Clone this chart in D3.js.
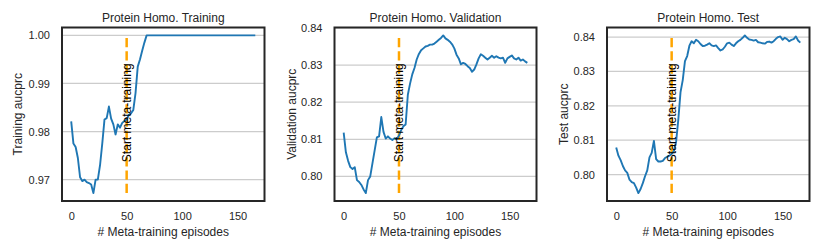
<!DOCTYPE html>
<html><head><meta charset="utf-8">
<script src="https://cdn.jsdelivr.net/npm/d3@7"></script>
<style>
html,body{margin:0;padding:0;background:#fff;}
svg{display:block;font-family:"Liberation Sans",Arial,sans-serif;}
</style></head>
<body><svg id="c" width="830" height="252"></svg>
<script>
// episodes (x values)
const episodes = [0,2,4,6,8,10,12,14,16,18,20,22,24,26,28,30,32,34,36,38,40,42,44,46,48,50,52,54,56,58,60,62,64,66,68,70,72,74,76,78,80,82,84,86,88,90,92,94,96,98,100,102,104,106,108,110,112,114,116,118,120,122,124,126,128,130,132,134,136,138,140,142,144,146,148,150,152,154,156,158,160,162,164,166];

const trainingAucprc = [0.9821,0.9775,0.9768,0.9745,0.9705,0.9697,0.9700,0.9695,0.9693,0.9690,0.9672,0.9700,0.9700,0.9730,0.9775,0.9825,0.9828,0.9852,0.9827,0.9815,0.9794,0.9815,0.9808,0.9818,0.9822,0.9825,0.9835,0.9838,0.9845,0.9880,0.9935,0.9950,0.9968,0.9985,1.0,1.0,1.0,1.0,1.0,1.0,1.0,1.0,1.0,1.0,1.0,1.0,1.0,1.0,1.0,1.0,1.0,1.0,1.0,1.0,1.0,1.0,1.0,1.0,1.0,1.0,1.0,1.0,1.0,1.0,1.0,1.0,1.0,1.0,1.0,1.0,1.0,1.0,1.0,1.0,1.0,1.0,1.0,1.0,1.0,1.0,1.0,1.0,1.0,1.0];

const validationAucprc = [0.8118,0.8065,0.8042,0.8025,0.8020,0.8025,0.7990,0.7985,0.7977,0.7965,0.7955,0.7990,0.8000,0.8035,0.8070,0.8105,0.8108,0.8160,0.8120,0.8102,0.8108,0.8102,0.8098,0.8103,0.8100,0.8110,0.8125,0.8135,0.8140,0.8220,0.8250,0.8275,0.8292,0.8315,0.8330,0.8340,0.8345,0.8350,0.8352,0.8355,0.8355,0.8358,0.8363,0.8368,0.8373,0.8380,0.8372,0.8368,0.8363,0.8356,0.8345,0.8328,0.8318,0.8302,0.8306,0.8303,0.8297,0.8292,0.8282,0.8288,0.8302,0.8318,0.8329,0.8325,0.8320,0.8315,0.8320,0.8325,0.8320,0.8324,0.8320,0.8318,0.8320,0.8306,0.8318,0.8322,0.8326,0.8318,0.8315,0.8320,0.8312,0.8315,0.8310,0.8306];

const testAucprc = [0.8079,0.8055,0.8042,0.8025,0.8012,0.8005,0.7985,0.7978,0.7975,0.7962,0.7946,0.7958,0.7975,0.7995,0.8012,0.8050,0.8063,0.8098,0.8045,0.8038,0.8038,0.8040,0.8048,0.8052,0.8055,0.8060,0.8068,0.8095,0.8160,0.8240,0.8275,0.8330,0.8345,0.8375,0.8388,0.8382,0.8392,0.8388,0.8380,0.8374,0.8375,0.8378,0.8382,0.8376,0.8374,0.8376,0.8368,0.8361,0.8364,0.8372,0.8382,0.8384,0.8378,0.8374,0.8382,0.8388,0.8392,0.8398,0.8405,0.8398,0.8393,0.8392,0.8390,0.8392,0.8385,0.8384,0.8382,0.8381,0.8386,0.8387,0.8384,0.8388,0.8395,0.8400,0.8402,0.8392,0.8398,0.8394,0.8388,0.8392,0.8394,0.8402,0.8390,0.8384];

const titles = ["Protein Homo. Training","Protein Homo. Validation","Protein Homo. Test"];
const yLabels = ["Training aucprc","Validation aucprc","Test aucprc"];
const xLabel = "# Meta-training episodes";
const xTicks = [0,50,100,150];
const yTicksTrain = [0.97,0.98,0.99,1.00];
const yTicksOther = [0.80,0.81,0.82,0.83,0.84];
const metaStart = 50;
const annotation = "Start meta-training";

const svg = d3.select("#c");
const panels = [
  {vals: trainingAucprc, yTicks: yTicksTrain, left: 62, right: 264.5, ylabX: 18},
  {vals: validationAucprc, yTicks: yTicksOther, left: 334.5, right: 536.5, ylabX: 291.5},
  {vals: testAucprc, yTicks: yTicksOther, left: 607, right: 809.5, ylabX: 563.5}
];
const plotTop = 27.5, plotBottom = 201;
const dark = "#262626";

panels.forEach((p, i) => {
  const xe = d3.extent(episodes), ye = d3.extent(p.vals);
  const xp = (xe[1]-xe[0])*0.05, yp = (ye[1]-ye[0])*0.05;
  const x = d3.scaleLinear().domain([xe[0]-xp, xe[1]+xp]).range([p.left, p.right]);
  const y = d3.scaleLinear().domain([ye[0]-yp, ye[1]+yp]).range([plotBottom, plotTop]);
  const g = svg.append("g");

  // grid
  g.append("g").selectAll("line").data(p.yTicks).join("line")
    .attr("x1", p.left).attr("x2", p.right)
    .attr("y1", d => y(d)).attr("y2", d => y(d))
    .attr("stroke", "#cccccc").attr("stroke-width", 1.2);

  // axes (labels only, no tick marks)
  const ya = g.append("g").attr("transform", `translate(${p.left},0)`)
    .call(d3.axisLeft(y).tickValues(p.yTicks).tickFormat(d3.format(".2f")).tickSize(0).tickPadding(12));
  ya.select(".domain").remove();
  ya.selectAll("text").attr("font-size", 11).attr("fill", dark).attr("font-family", "Liberation Sans, Arial, sans-serif");

  const xa = g.append("g").attr("transform", `translate(0,${plotBottom})`)
    .call(d3.axisBottom(x).tickValues(xTicks).tickFormat(d3.format("d")).tickSize(0).tickPadding(11));
  xa.select(".domain").remove();
  xa.selectAll("text").attr("font-size", 11).attr("fill", dark).attr("font-family", "Liberation Sans, Arial, sans-serif");

  // vertical dashed line
  g.append("line")
    .attr("x1", x(metaStart)).attr("x2", x(metaStart))
    .attr("y1", y(ye[0])).attr("y2", y(ye[1]))
    .attr("stroke", "#ffa500").attr("stroke-width", 2.5)
    .attr("stroke-dasharray", "9.25,4");

  // data line
  g.append("path").datum(episodes.map((e, k) => [e, p.vals[k]]))
    .attr("fill", "none").attr("stroke", "#1f77b4").attr("stroke-width", 1.9)
    .attr("stroke-linejoin", "round")
    .attr("d", d3.line().x(d => x(d[0])).y(d => y(d[1])));

  // annotation
  const ay = plotTop + (plotBottom - plotTop) * 0.776;
  g.append("text")
    .attr("transform", `translate(${x(metaStart)},${ay}) rotate(-90)`)
    .attr("text-anchor", "start").attr("dominant-baseline", "central")
    .attr("font-size", 12).attr("fill", "#000").text(annotation);

  // frame
  g.append("rect").attr("x", p.left).attr("y", plotTop)
    .attr("width", p.right - p.left).attr("height", plotBottom - plotTop)
    .attr("fill", "none").attr("stroke", dark).attr("stroke-width", 2);

  // title
  g.append("text").attr("x", (p.left + p.right)/2).attr("y", 22)
    .attr("text-anchor", "middle").attr("font-size", 12).attr("fill", dark).text(titles[i]);

  // x label
  g.append("text").attr("x", (p.left + p.right)/2).attr("y", 236)
    .attr("text-anchor", "middle").attr("font-size", 12).attr("fill", dark).text(xLabel);

  // y label
  g.append("text").attr("transform", `translate(${p.ylabX},${(plotTop+plotBottom)/2}) rotate(-90)`)
    .attr("text-anchor", "middle").attr("dominant-baseline", "central")
    .attr("font-size", 12).attr("fill", dark).text(yLabels[i]);
});
</script></body></html>
